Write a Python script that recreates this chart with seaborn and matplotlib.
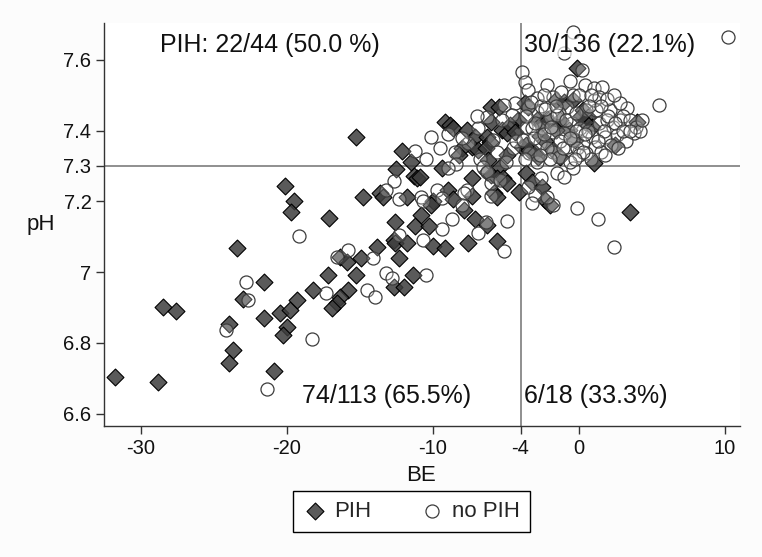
import numpy as np
import pandas as pd
import matplotlib
matplotlib.use("Agg")
import matplotlib.pyplot as plt
import seaborn as sns

sns.set_theme(style="ticks")
plt.rcParams['font.family'] = ['Liberation Sans', 'DejaVu Sans']

# ---------------- data ----------------
pih_be = [
    -31.8, -28.8, -28.5, -27.6, -24.0, -23.7, -24.0, -23.4, -23.0, -21.6, -21.6, -20.9, -20.5, -19.8, -19.3,
    -20.0, -20.3, -20.1, -19.5, -19.7,
    -17.1, -18.2, -17.2, -16.4, -15.9, -15.3, -15.8, -16.4, -16.6, -16.9, -14.8, -14.9, -13.8, -13.6, -13.4,
    -12.5, -12.7, -12.6, -12.6, -12.3, -12.7, -12.0, -11.8, -11.8, -11.4, -11.3, -11.1, -11.2, -10.8, -10.3,
    -10.0, -10.0,
    -9.4, -7.3, -6.3, -6.0, -5.4, -5.6, -5.2, -4.9,
    -9.0, -7.3, -5.8, -5.6, -10.1, -8.6, -7.9, -7.1, -10.9, -6.3, -7.6, -9.2, -5.6, -4.1,
    -15.3, -12.1, -11.5, -9.2, -8.8, -8.6, -7.7, -7.1, -6.0, -5.5, -6.0, -6.3, -6.1, -5.3, -4.9, -4.2, -4.7,
    -7.3, -6.9, -8.0, -8.2, -6.4, -6.2, -4.9, -4.4,
    -3.7, -3.5, -3.9, -3.6, -3.4, -3.0, -2.8, -2.9, -2.5, -2.1, -2.7, -2.3, -1.8, -1.3, -1.6, -1.0, -0.4,
    -0.1, 0.3, 0.6, 0.9, 0.4, 0.1, 4.0, 2.5, 1.0, -1.3, -0.7, -0.3, -1.6,
    -3.6, -3.2, -2.5, -2.3, -2.0, 3.5,
]
pih_ph = [
    6.703, 6.689, 6.901, 6.890, 6.853, 6.780, 6.743, 7.068, 6.924, 6.972, 6.870, 6.720, 6.884, 6.893, 6.921,
    6.845, 6.822, 7.243, 7.201, 7.169,
    7.153, 6.949, 6.992, 7.042, 7.028, 6.992, 6.949, 6.929, 6.912, 6.898, 7.212, 7.040, 7.071, 7.223, 7.212,
    7.291, 7.090, 7.082, 7.141, 7.040, 6.958, 6.958, 7.212, 7.082, 6.992, 7.271, 7.266, 7.130, 7.161, 7.130,
    7.200, 7.073,
    7.294, 7.266, 7.282, 7.274, 7.297, 7.266, 7.266, 7.251,
    7.232, 7.215, 7.223, 7.212, 7.190, 7.206, 7.175, 7.150, 7.268, 7.133, 7.082, 7.068, 7.088, 7.226,
    7.381, 7.342, 7.311, 7.424, 7.415, 7.407, 7.401, 7.381, 7.466, 7.466, 7.424, 7.381, 7.367, 7.401, 7.393,
    7.429, 7.415,
    7.353, 7.345, 7.350, 7.331, 7.350, 7.318, 7.331, 7.395,
    7.477, 7.466, 7.353, 7.359, 7.345, 7.336, 7.325, 7.429, 7.421, 7.429, 7.385, 7.370, 7.345, 7.325, 7.486,
    7.480, 7.486, 7.576, 7.458, 7.438, 7.410, 7.424, 7.438, 7.424, 7.359, 7.308, 7.429, 7.401, 7.373, 7.401,
    7.280, 7.255, 7.240, 7.203, 7.190, 7.169,
]

nopih_be = [
    # upper left
    -10.1, -11.2, -4.4, -5.1, -6.3, -9.0, -6.9, -5.9, -7.6, -5.6, -4.5, -5.0, -6.8, -8.5, -7.0, -4.6, -9.5,
    -10.5, -8.0, -4.3, -5.3, -8.4,
    # lower left
    -19.2, -22.8, -22.7, -24.2, -21.4, -18.3, -12.7, -13.2, -12.3, -10.8, -9.7, -10.7, -12.3, -14.1, -15.8,
    -16.6, -17.3, -14.5, -14.0, -13.2, -12.8, -10.5, -9.0, -6.6, -6.3, -6.0, -5.4, -7.7, -7.9, -6.0, -10.7,
    -9.4, -8.7, -4.9, -8.0, -9.4, -6.9, -6.4, -5.1,
    # lower right
    -3.0, -1.8, -0.1, 1.3, 2.4, -0.4, -2.2, -3.5, -2.6, -1.5, -3.2, -1.0,
    # upper right
    -3.9, -3.7, -3.5, -2.9, -2.2, -1.8, 0.4, 1.0, 1.6, -0.4, -0.8, -1.4, 1.2, 2.1, 3.3, 5.5, 10.2, -0.4,
    -1.0, 0.2, 1.4, 1.9, 2.3, 2.8, 1.8, 2.6, 3.8, 0.9, 0.3, 1.1, 0.5, -0.8, -0.4, -1.8, -1.4, -2.7, -2.2,
    -3.8, -3.4, -2.0, -1.5, -2.9, -3.5, -0.5, 0.1, 0.5, -2.5, -1.0, -0.1, -1.8, 1.0, 1.4, 2.8, -3.6, -3.2,
    -3.3, -2.6, -2.4, -1.2, -0.6, 0.0, 0.8, 1.9, 2.4, 3.0, 3.5, 3.9, 4.2, 3.2, 2.2, 1.5, 0.8, 0.0, -0.6,
    -2.0, -2.9, -3.7, -3.1, -1.3, -0.2, 0.6, 1.7, 2.0, -0.9, -2.3, -1.6, -0.2, 0.7, 1.5, -3.0, -2.4, -1.1,
    0.3, 1.3, 2.5, 3.0, -3.6, -0.6, 0.4, 2.7, -1.9, -2.7, -0.3, 1.8, 3.5, 4.3,
]
nopih_ph = [
    7.381, 7.342, 7.477, 7.472, 7.438, 7.390, 7.407, 7.373, 7.364, 7.339, 7.350, 7.310, 7.320, 7.340, 7.440,
    7.445, 7.350, 7.320, 7.380, 7.370, 7.430, 7.305,
    7.102, 6.972, 6.921, 6.836, 6.669, 6.811, 7.257, 7.232, 7.206, 7.212, 7.232, 7.090, 7.105, 7.040, 7.062,
    7.042, 6.941, 6.949, 6.929, 6.997, 6.983, 6.992, 7.294, 7.297, 7.282, 7.251, 7.260, 7.232, 7.223, 7.215,
    7.200, 7.209, 7.150, 7.145, 7.189, 7.121, 7.110, 7.141, 7.059,
    7.218, 7.189, 7.181, 7.150, 7.071, 7.294, 7.212, 7.240, 7.265, 7.280, 7.196, 7.270,
    7.565, 7.537, 7.514, 7.492, 7.528, 7.494, 7.528, 7.520, 7.523, 7.500, 7.466, 7.449, 7.458, 7.458, 7.463,
    7.472, 7.664, 7.678, 7.619, 7.571, 7.421, 7.429, 7.410, 7.429, 7.381, 7.387, 7.393, 7.381, 7.364, 7.353,
    7.336, 7.353, 7.373, 7.339, 7.325, 7.364, 7.350, 7.373, 7.336, 7.438, 7.444, 7.452, 7.466, 7.421, 7.407,
    7.458, 7.407, 7.393, 7.350, 7.395, 7.486, 7.494, 7.477, 7.410, 7.407,
    7.48, 7.47, 7.50, 7.51, 7.54, 7.50, 7.50, 7.49, 7.50, 7.44, 7.43, 7.41, 7.40, 7.37, 7.36, 7.34, 7.32,
    7.33, 7.31, 7.32, 7.31, 7.32, 7.38, 7.37, 7.40, 7.40, 7.40, 7.44, 7.43, 7.46, 7.47, 7.45, 7.47, 7.47,
    7.42, 7.39, 7.35, 7.34, 7.37, 7.42, 7.40, 7.44, 7.38, 7.39, 7.35, 7.41, 7.33, 7.32, 7.33, 7.40, 7.43,
]

x_ticks = [-30, -20, -10, -4, 0, 10]
x_ticklabels = ["-30", "-20", "-10", "-4", "0", "10"]
y_ticks = [6.6, 6.8, 7.0, 7.2, 7.3, 7.4, 7.6]
y_ticklabels = ["6.6", "6.8", "7", "7.2", "7.3", "7.4", "7.6"]
cut_be, cut_ph = -4, 7.3
annotations = [
    (-28.7, 7.641, "PIH: 22/44 (50.0 %)"),
    (-3.78, 7.641, "30/136 (22.1%)"),
    (-19.0, 6.650, "74/113 (65.5%)"),
    (-3.78, 6.650, "6/18 (33.3%)"),
]

df_pih = pd.DataFrame({"BE": pih_be, "pH": pih_ph})
df_no = pd.DataFrame({"BE": nopih_be, "pH": nopih_ph})

# ---------------- figure ----------------
W, H = 762, 557
fig = plt.figure(figsize=(W / 100, H / 100), dpi=100, facecolor="#fcfcfc")
ax = fig.add_axes([104 / W, 1 - 426 / H, 636 / W, 403 / H])
ax.set_facecolor("white")

sns.scatterplot(data=df_pih, x="BE", y="pH", marker="D", s=74,
                facecolor=(0.24, 0.24, 0.24, 0.85), edgecolor="black", linewidth=0.8,
                label="PIH", ax=ax, zorder=3)
sns.scatterplot(data=df_no, x="BE", y="pH", marker="o", s=88,
                facecolor=(1, 1, 1, 0.25), edgecolor="#3c3c3c", linewidth=0.9,
                label="no PIH", ax=ax, zorder=4)

ax.axvline(cut_be, color="#8f8f8f", lw=1.4, zorder=1)
ax.axhline(cut_ph, color="#8f8f8f", lw=1.4, zorder=1)

for i, (x, y, t) in enumerate(annotations):
    kw = {}
    if i == 1:
        kw["bbox"] = dict(facecolor="white", alpha=0.7, edgecolor="none", pad=0.0)
    ax.text(x, y, t, fontsize=18, ha="left", va="center", color="#111111", zorder=6, **kw)

ax.set_xlim(-32.53, 11.03)
ax.set_ylim(6.565, 7.704)
ax.set_xticks(x_ticks)
ax.set_xticklabels(x_ticklabels)
ax.set_yticks(y_ticks)
ax.set_yticklabels(y_ticklabels)
ax.tick_params(axis="both", direction="out", length=6, width=1, color="#333333",
               labelsize=14.5, pad=3, labelcolor="#111111", bottom=True, left=True)

for s in ["top", "right"]:
    ax.spines[s].set_visible(False)
for s in ["left", "bottom"]:
    ax.spines[s].set_color("#333333")
    ax.spines[s].set_linewidth(1.0)

ax.set_xlabel("BE", fontsize=16, color="#111111")
ax.set_ylabel("pH", fontsize=16, rotation=0, color="#111111", ha="center", va="center")
ax.xaxis.set_label_coords(0.498, -0.097)
ax.yaxis.set_label_coords(-0.099, 0.499)

handles, labels = ax.get_legend_handles_labels()
if ax.get_legend() is not None:
    ax.get_legend().remove()
leg = fig.legend(handles, labels, loc="center", bbox_to_anchor=(411.5 / W, 1 - 511.5 / H),
                 ncol=2, frameon=True, fancybox=False, edgecolor="black", fontsize=16,
                 handlelength=1.0, handletextpad=0.4, columnspacing=2.2, borderpad=0.45,
                 framealpha=1)
leg.get_frame().set_linewidth(1.0)

fig.savefig("out.png", dpi=100, facecolor=fig.get_facecolor())
